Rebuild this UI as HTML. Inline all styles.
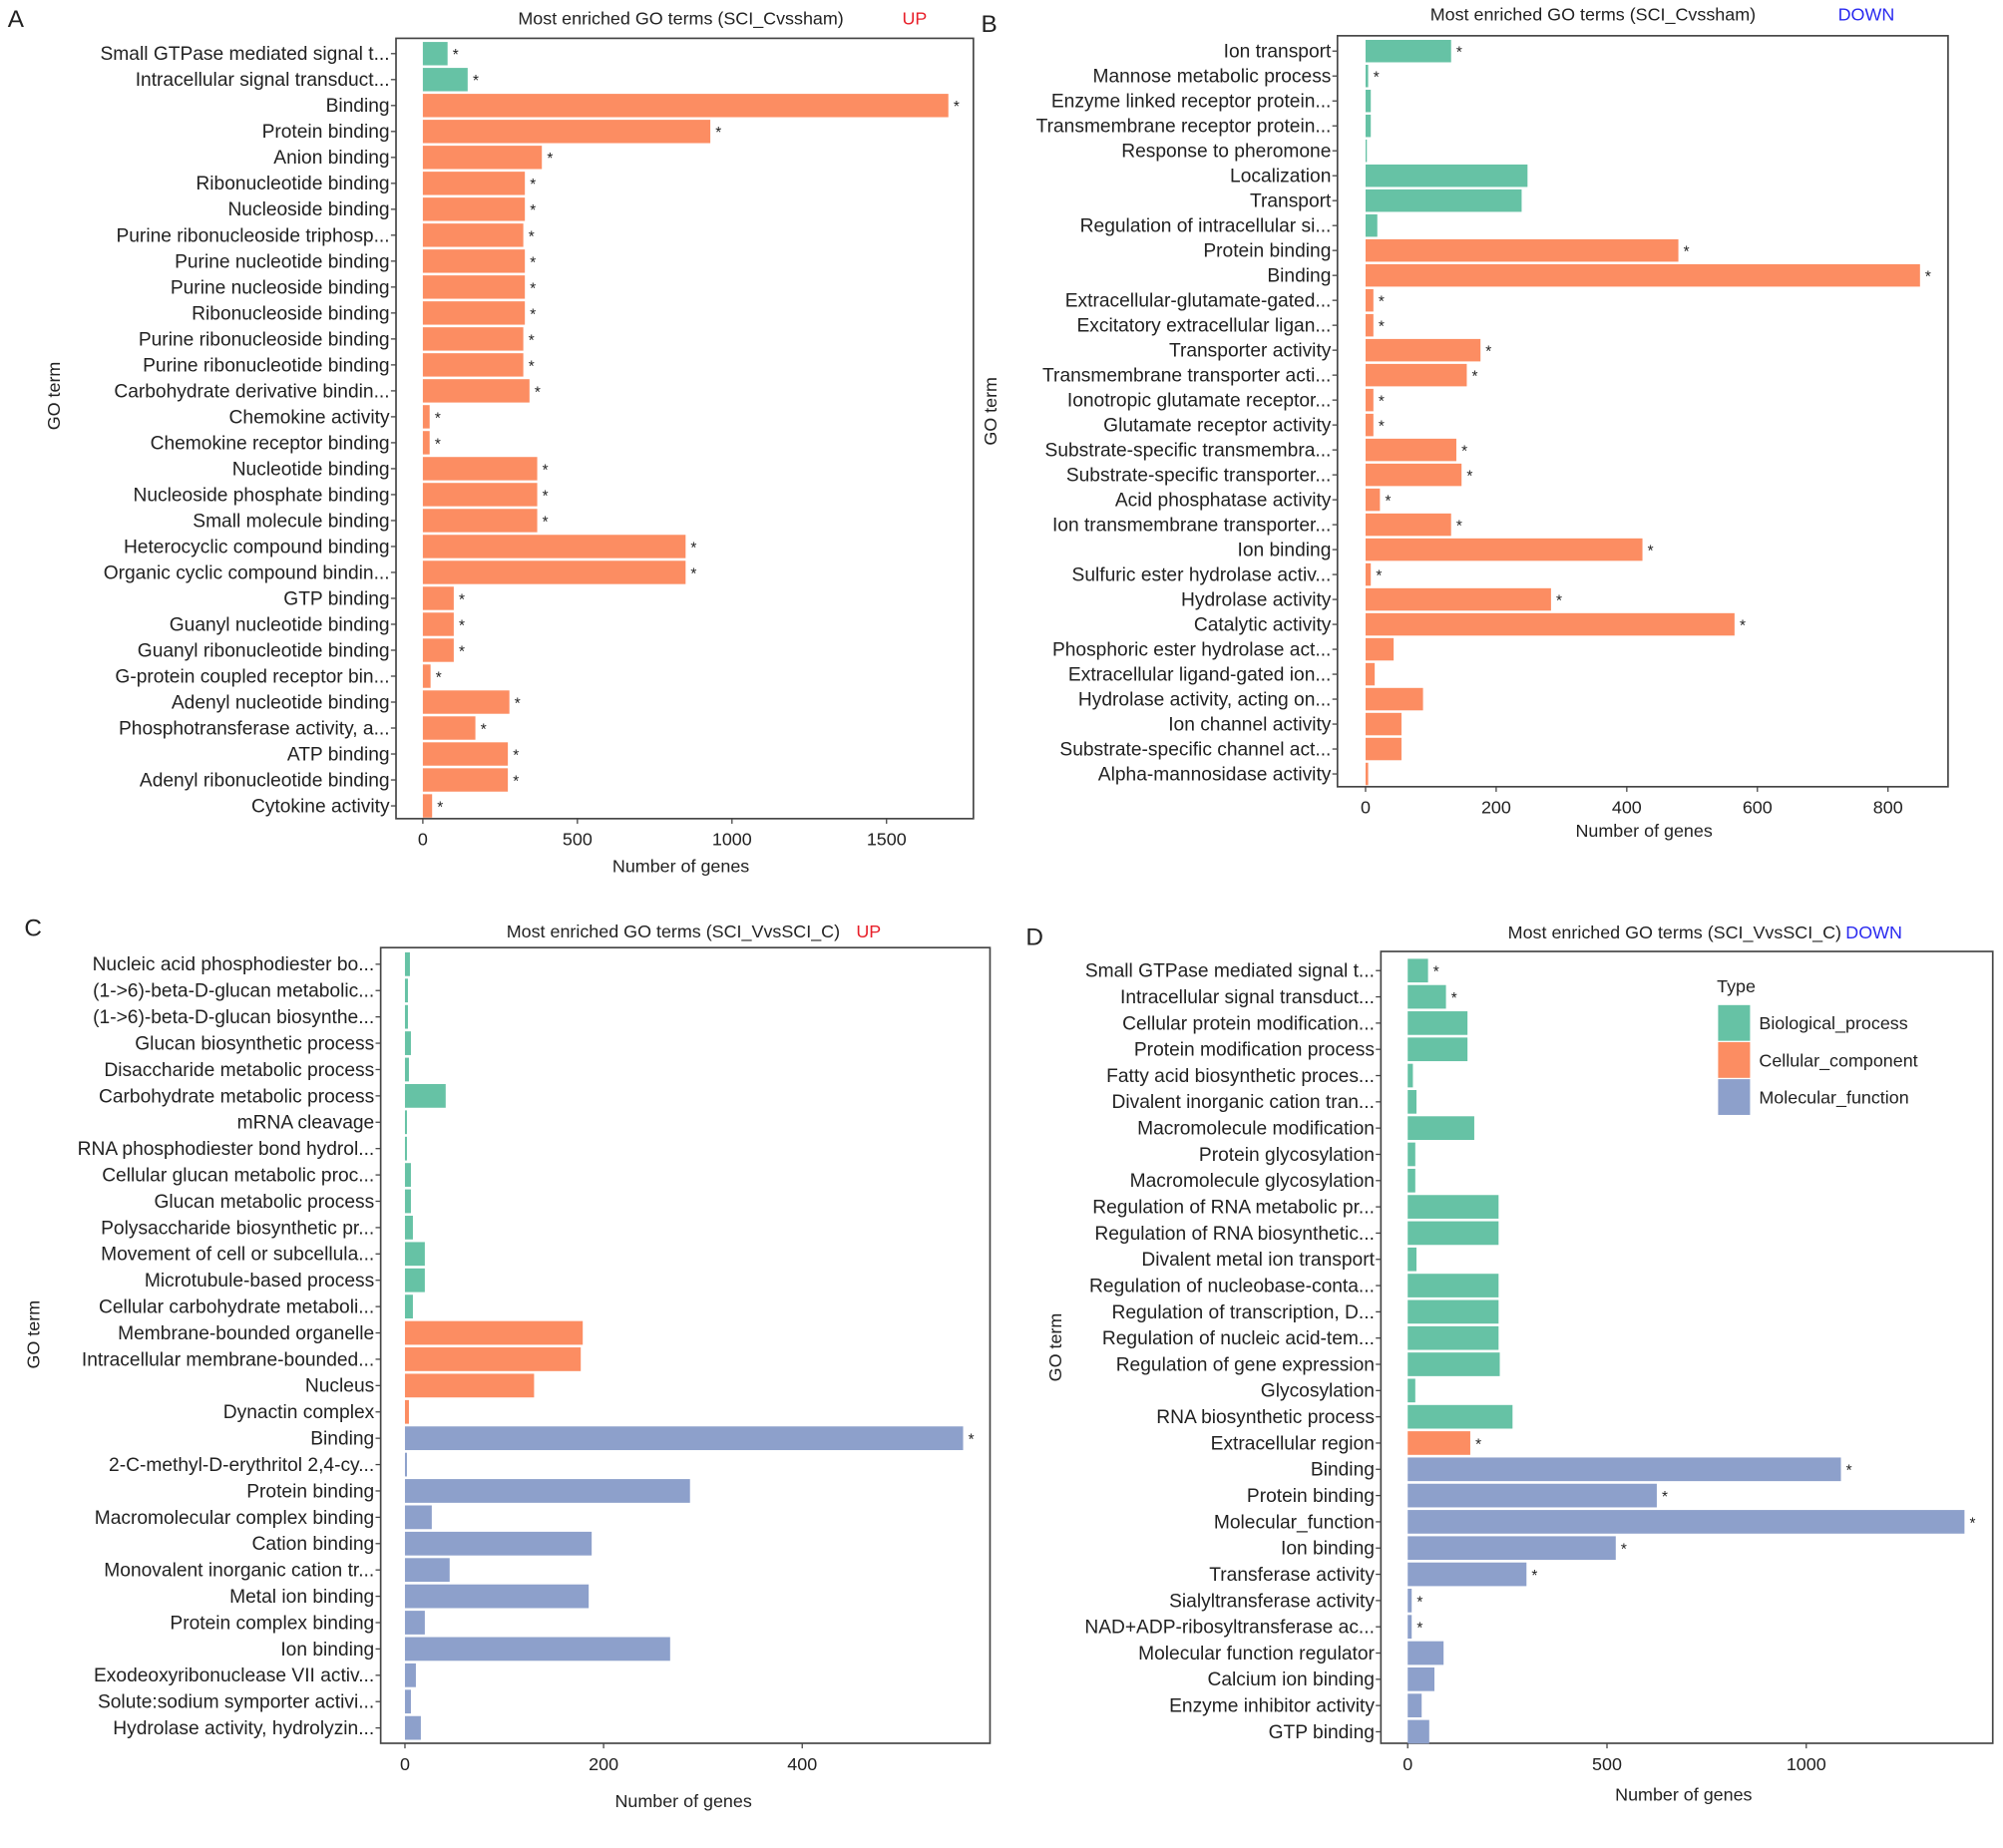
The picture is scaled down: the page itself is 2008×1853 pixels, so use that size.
<!DOCTYPE html>
<html><head><meta charset="utf-8"><style>
html,body{margin:0;padding:0;background:#fff;}
svg{display:block;font-family:"Liberation Sans",Arial,sans-serif;}
</style></head><body>
<svg id="fig" width="2008" height="1853" viewBox="0 0 1568 1447" xmlns="http://www.w3.org/2000/svg"></svg>
<script>
// ---------- Panel A data ----------
const catsA = ["Small GTPase mediated signal t...","Intracellular signal transduct...","Binding","Protein binding","Anion binding","Ribonucleotide binding","Nucleoside binding","Purine ribonucleoside triphosp...","Purine nucleotide binding","Purine nucleoside binding","Ribonucleoside binding","Purine ribonucleoside binding","Purine ribonucleotide binding","Carbohydrate derivative bindin...","Chemokine activity","Chemokine receptor binding","Nucleotide binding","Nucleoside phosphate binding","Small molecule binding","Heterocyclic compound binding","Organic cyclic compound bindin...","GTP binding","Guanyl nucleotide binding","Guanyl ribonucleotide binding","G-protein coupled receptor bin...","Adenyl nucleotide binding","Phosphotransferase activity, a...","ATP binding","Adenyl ribonucleotide binding","Cytokine activity"];
const valsA = [80,145,1700,930,385,330,330,325,330,330,330,325,325,345,22,22,370,370,370,850,850,100,100,100,25,280,170,275,275,30];
const typesA = ["BP","BP","CC","CC","CC","CC","CC","CC","CC","CC","CC","CC","CC","CC","CC","CC","CC","CC","CC","CC","CC","CC","CC","CC","CC","CC","CC","CC","CC","CC"];
const starsA = [1,1,1,1,1,1,1,1,1,1,1,1,1,1,1,1,1,1,1,1,1,1,1,1,1,1,1,1,1,1];
const ticksA = [0,500,1000,1500];

// ---------- Panel B data ----------
const catsB = ["Ion transport","Mannose metabolic process","Enzyme linked receptor protein...","Transmembrane receptor protein...","Response to pheromone","Localization","Transport","Regulation of intracellular si...","Protein binding","Binding","Extracellular-glutamate-gated...","Excitatory extracellular ligan...","Transporter activity","Transmembrane transporter acti...","Ionotropic glutamate receptor...","Glutamate receptor activity","Substrate-specific transmembra...","Substrate-specific transporter...","Acid phosphatase activity","Ion transmembrane transporter...","Ion binding","Sulfuric ester hydrolase activ...","Hydrolase activity","Catalytic activity","Phosphoric ester hydrolase act...","Extracellular ligand-gated ion...","Hydrolase activity, acting on...","Ion channel activity","Substrate-specific channel act...","Alpha-mannosidase activity"];
const valsB = [131,4,8,8,2,248,239,18,479,849,12,12,176,155,12,12,139,147,22,131,424,8,284,565,43,14,88,55,55,4];
const typesB = ["BP","BP","BP","BP","BP","BP","BP","BP","CC","CC","CC","CC","CC","CC","CC","CC","CC","CC","CC","CC","CC","CC","CC","CC","CC","CC","CC","CC","CC","CC"];
const starsB = [1,1,0,0,0,0,0,0,1,1,1,1,1,1,1,1,1,1,1,1,1,1,1,1,0,0,0,0,0,0];
const ticksB = [0,200,400,600,800];

// ---------- Panel C data ----------
const catsC = ["Nucleic acid phosphodiester bo...","(1->6)-beta-D-glucan metabolic...","(1->6)-beta-D-glucan biosynthe...","Glucan biosynthetic process","Disaccharide metabolic process","Carbohydrate metabolic process","mRNA cleavage","RNA phosphodiester bond hydrol...","Cellular glucan metabolic proc...","Glucan metabolic process","Polysaccharide biosynthetic pr...","Movement of cell or subcellula...","Microtubule-based process","Cellular carbohydrate metaboli...","Membrane-bounded organelle","Intracellular membrane-bounded...","Nucleus","Dynactin complex","Binding","2-C-methyl-D-erythritol 2,4-cy...","Protein binding","Macromolecular complex binding","Cation binding","Monovalent inorganic cation tr...","Metal ion binding","Protein complex binding","Ion binding","Exodeoxyribonuclease VII activ...","Solute:sodium symporter activi...","Hydrolase activity, hydrolyzin..."];
const valsC = [5,3,3,6,4,41,2,2,6,6,8,20,20,8,179,177,130,4,562,2,287,27,188,45,185,20,267,11,6,16];
const typesC = ["BP","BP","BP","BP","BP","BP","BP","BP","BP","BP","BP","BP","BP","BP","CC","CC","CC","CC","MF","MF","MF","MF","MF","MF","MF","MF","MF","MF","MF","MF"];
const starsC = [0,0,0,0,0,0,0,0,0,0,0,0,0,0,0,0,0,0,1,0,0,0,0,0,0,0,0,0,0,0];
const ticksC = [0,200,400];

// ---------- Panel D data ----------
const catsD = ["Small GTPase mediated signal t...","Intracellular signal transduct...","Cellular protein modification...","Protein modification process","Fatty acid biosynthetic proces...","Divalent inorganic cation tran...","Macromolecule modification","Protein glycosylation","Macromolecule glycosylation","Regulation of RNA metabolic pr...","Regulation of RNA biosynthetic...","Divalent metal ion transport","Regulation of nucleobase-conta...","Regulation of transcription, D...","Regulation of nucleic acid-tem...","Regulation of gene expression","Glycosylation","RNA biosynthetic process","Extracellular region","Binding","Protein binding","Molecular_function","Ion binding","Transferase activity","Sialyltransferase activity","NAD+ADP-ribosyltransferase ac...","Molecular function regulator","Calcium ion binding","Enzyme inhibitor activity","GTP binding"];
const valsD = [51,96,150,150,13,22,167,19,19,228,228,22,228,228,228,231,19,263,157,1087,625,1397,522,298,10,10,90,67,35,54];
const typesD = ["BP","BP","BP","BP","BP","BP","BP","BP","BP","BP","BP","BP","BP","BP","BP","BP","BP","BP","CC","MF","MF","MF","MF","MF","MF","MF","MF","MF","MF","MF"];
const starsD = [1,1,0,0,0,0,0,0,0,0,0,0,0,0,0,0,0,0,1,1,1,1,1,1,1,1,0,0,0,0];
const ticksD = [0,500,1000];

const COLORS = {BP:"#66c2a5", CC:"#fc8d62", MF:"#8da0cb"};
const NS = "http://www.w3.org/2000/svg";
const svg = document.getElementById("fig");

function el(tag, attrs, parent, text){
  const e = document.createElementNS(NS, tag);
  for (const k in attrs) e.setAttribute(k, attrs[k]);
  if (text !== undefined) e.textContent = text;
  (parent||svg).appendChild(e);
  return e;
}

function panel(p){
  const g = el("g", {}, svg);
  
  
  const xs = v => p.x0 + v * p.scale;
  const ys = i => p.y0 + i * p.step;
  const box = el("rect", {x:p.bx0, y:p.by0, width:p.bx1-p.bx0, height:p.by1-p.by0, fill:"#fff", stroke:"#444", "stroke-width":1.3}, g);
  
  
  const bh = p.step * 0.9;
  p.cats.forEach((c, i) => {
    const y = ys(i);
    const r = el("rect", {x:p.x0, y:y-bh/2, width:Math.max(0.5, xs(p.vals[i]) - p.x0), height:bh, fill:COLORS[p.types[i]]}, g);
    
    
    if (p.stars[i]) {
      const s = el("text", {x:xs(p.vals[i])+4, y:y+5, "font-size":12, fill:"#222"}, g, "*");
      
      
    }
    el("line", {x1:p.bx0-4, x2:p.bx0, y1:y, y2:y, stroke:"#444", "stroke-width":1}, g);
    const t = el("text", {x:p.bx0-5, y:y+5, "text-anchor":"end", "font-size":15, fill:"#222"}, g, c);
    
    
  });
  p.ticks.forEach(v => {
    const x = xs(v);
    el("line", {x1:x, x2:x, y1:p.by1, y2:p.by1+4, stroke:"#444", "stroke-width":1}, g);
    const t = el("text", {x:x, y:p.by1+21, "text-anchor":"middle", "font-size":14, fill:"#222"}, g, String(v));
    
    
  });
  const xt = el("text", {x:p.xtx, y:p.xty, "text-anchor":"middle", "font-size":14, fill:"#222"}, g, "Number of genes");
  
  
  const yt = el("text", {x:0, y:0, transform:`translate(${p.ytx},${p.yty}) rotate(-90)`, "text-anchor":"middle", "font-size":14, fill:"#222"}, g, "GO term");
  
  
  const ti = el("text", {x:p.tx, y:p.ty, "text-anchor":"middle", "font-size":14, fill:"#222"}, g, p.title);
  
  
  const tag = el("text", {x:p.tagx, y:p.ty, "text-anchor":"middle", "font-size":14, fill:p.tagColor}, g, p.tag);
  
  
  const L = el("text", {x:p.lx, y:p.ly, "font-size":19, fill:"#222"}, g, p.id);
  
  
}

panel({id:"A", cats:catsA, vals:valsA, types:typesA, stars:starsA, ticks:ticksA,
  bx0:310, bx1:762, by0:30, by1:641, x0:331, scale:(696-333)/1500, y0:42, step:(631-42)/29,
  xtx:533, xty:683, ytx:47, yty:310, tx:533, ty:19, title:"Most enriched GO terms (SCI_Cvssham)", tagx:716, tag:"UP", tagColor:"#e8202a", lx:6, ly:21});
panel({id:"B", cats:catsB, vals:valsB, types:typesB, stars:starsB, ticks:ticksB,
  bx0:1047, bx1:1525, by0:28, by1:616, x0:1069, scale:(1478-1069)/800, y0:40, step:(606-40)/29,
  xtx:1287, xty:655, ytx:780, yty:322, tx:1247, ty:16, title:"Most enriched GO terms (SCI_Cvssham)", tagx:1461, tag:"DOWN", tagColor:"#2a2af0", lx:768, ly:25});
panel({id:"C", cats:catsC, vals:valsC, types:typesC, stars:starsC, ticks:ticksC,
  bx0:298, bx1:775, by0:742, by1:1365, x0:317, scale:(628-317)/400, y0:755, step:(1353-755)/29,
  xtx:535, xty:1415, ytx:31, yty:1045, tx:527, ty:734, title:"Most enriched GO terms (SCI_VvsSCI_C)", tagx:680, tag:"UP", tagColor:"#e8202a", lx:19, ly:733});
panel({id:"D", cats:catsD, vals:valsD, types:typesD, stars:starsD, ticks:ticksD,
  bx0:1081, bx1:1560, by0:745, by1:1365, x0:1102, scale:(1414-1102)/1000, y0:760, step:(1356-760)/29,
  xtx:1318, xty:1410, ytx:831, yty:1055, tx:1311, ty:735, title:"Most enriched GO terms (SCI_VvsSCI_C)", tagx:1467, tag:"DOWN", tagColor:"#2a2af0", lx:803, ly:740});

// legend in panel D
const legNames = ["Biological_process","Cellular_component","Molecular_function"];
const legKeys = ["BP","CC","MF"];
const lg = el("g", {}, svg);


el("text", {x:1344, y:777, "font-size":14, fill:"#222"}, lg, "Type");
legKeys.forEach((k, i) => {
  const y = 787 + i * 29;
  const r = el("rect", {x:1345, y:y, width:25, height:28, fill:COLORS[k]}, lg);
  
  
  const t = el("text", {x:1377, y:y+19, "font-size":14, fill:"#222"}, lg, legNames[i]);
  
  
});
</script>
</body></html>
